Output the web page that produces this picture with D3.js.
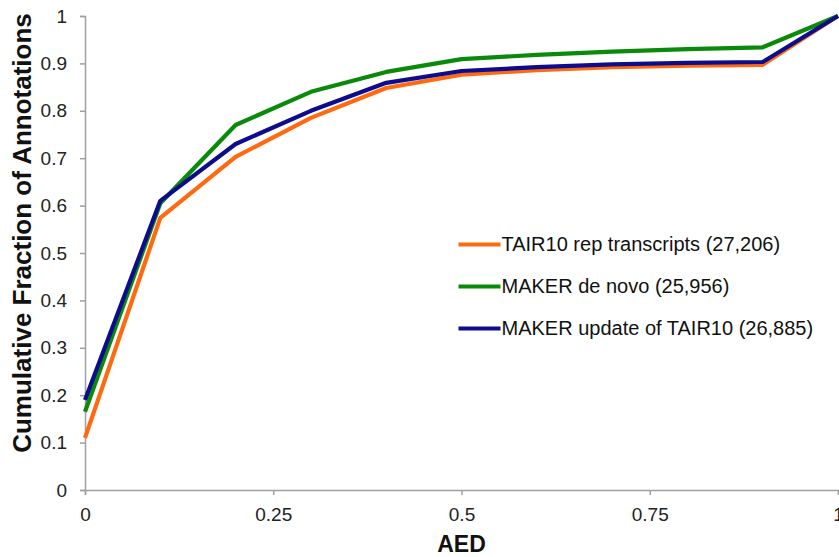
<!DOCTYPE html>
<html>
<head>
<meta charset="utf-8">
<script src="https://cdn.jsdelivr.net/npm/d3@7"></script>
<style>
  body { margin: 0; background: #fff; }
  svg { display: block; font-family: "Liberation Sans", Arial, sans-serif; }
</style>
</head>
<body>
<div id="chart"></div>
<script>
// values
const aed = [0, 0.1, 0.2, 0.3, 0.4, 0.5, 0.6, 0.7, 0.8, 0.9, 1];
const tair10 = [0.11, 0.574, 0.703, 0.785, 0.848, 0.876, 0.886, 0.892, 0.895, 0.897, 1];
const makerDeNovo = [0.165, 0.605, 0.77, 0.84, 0.882, 0.909, 0.918, 0.925, 0.93, 0.934, 1];
const makerUpdate = [0.19, 0.61, 0.73, 0.80, 0.859, 0.884, 0.892, 0.898, 0.901, 0.903, 1];
const seriesNames = ["TAIR10 rep transcripts (27,206)", "MAKER de novo (25,956)", "MAKER update of TAIR10 (26,885)"];
const seriesColors = ["#ff6a10", "#0a8a0a", "#0c0c8c"];
const xTicks = [0, 0.25, 0.5, 0.75, 1];
const yTicks = [0, 0.1, 0.2, 0.3, 0.4, 0.5, 0.6, 0.7, 0.8, 0.9, 1];

const W = 839, H = 557;
const margin = { top: 16, right: 1, bottom: 67, left: 85 };
const width = W - margin.left - margin.right,
  height = H - margin.top - margin.bottom;

const svg = d3.select("#chart").append("svg")
  .attr("width", W)
  .attr("height", H);

const g = svg.append("g")
  .attr("transform", "translate(" + margin.left + "," + margin.top + ")");

const x = d3.scaleLinear().domain([0, 1]).range([0, width]);
const y = d3.scaleLinear().domain([0, 1]).range([height, 0]);

// y axis
const yAxis = g.append("g")
  .call(d3.axisLeft(y).tickValues(yTicks).tickSize(5).tickPadding(13)
    .tickFormat(d => d3.format("")(+d.toFixed(1))));
// x axis
const xAxis = g.append("g")
  .attr("transform", "translate(0," + height + ")")
  .call(d3.axisBottom(x).tickValues(xTicks).tickSize(5).tickPadding(13)
    .tickFormat(d => String(d)));

[yAxis, xAxis].forEach(a => {
  a.select(".domain").attr("stroke", "#a0a0a0").attr("stroke-width", 1.5);
  a.selectAll(".tick line").attr("stroke", "#a0a0a0").attr("stroke-width", 1.5);
  a.selectAll(".tick text")
    .attr("fill", "#222")
    .style("font-size", "19px")
    .style("font-family", "Liberation Sans, Arial, sans-serif");
});

const line = d3.line()
  .x((d, i) => x(aed[i]))
  .y(d => y(d));

[tair10, makerDeNovo, makerUpdate].forEach((s, i) => {
  g.append("path")
    .datum(s)
    .attr("fill", "none")
    .attr("stroke", seriesColors[i])
    .attr("stroke-width", 4.2)
    .attr("stroke-linejoin", "round")
    .attr("d", line);
});

// legend
const legend = g.append("g")
  .attr("transform", "translate(" + (x(0.496)) + "," + (y(0.518)) + ")");
seriesNames.forEach((name, i) => {
  const row = legend.append("g").attr("transform", "translate(0," + (i * 42) + ")");
  row.append("line")
    .attr("x1", 0).attr("x2", 42)
    .attr("stroke", seriesColors[i])
    .attr("stroke-width", 4);
  row.append("text")
    .attr("x", 43)
    .attr("dy", "0.35em")
    .attr("fill", "#111")
    .style("font-size", "20px")
    .text(name);
});

// axis titles
svg.append("text")
  .attr("x", margin.left + x(0.5))
  .attr("y", 552)
  .attr("text-anchor", "middle")
  .attr("font-weight", "bold")
  .style("font-size", "23px")
  .attr("fill", "#111")
  .text("AED");

svg.append("text")
  .attr("transform", "translate(31,233) rotate(-90)")
  .attr("text-anchor", "middle")
  .attr("font-weight", "bold")
  .style("font-size", "26px")
  .attr("fill", "#111")
  .text("Cumulative Fraction of Annotations");
</script>
</body>
</html>
